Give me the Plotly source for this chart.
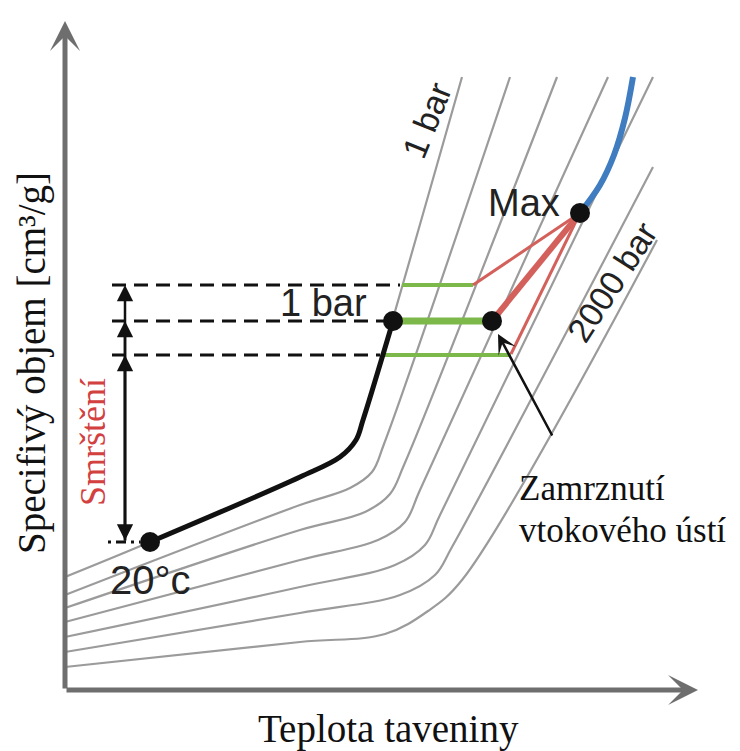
import plotly.graph_objects as go

# ---- data (arbitrary units: T = melt temperature, V = specific volume) ----
# isobars (1 bar ... 2000 bar)
iso_1bar_T = [0.0, 8.5, 23.5, 27.5, 29.1, 29.8, 39.7]
iso_1bar_V = [11.3, 14.8, 21.3, 23.3, 25.0, 27.0, 61.3]
iso_2_T = [0.0, 23.5, 28.5, 30.7, 31.9, 44.5]
iso_2_V = [9.5, 18.5, 20.2, 21.8, 24.6, 61.3]
iso_3_T = [0.0, 23.5, 30.0, 32.5, 33.9, 49.2]
iso_3_V = [8.2, 16.0, 17.8, 19.6, 22.5, 61.3]
iso_4_T = [0.0, 23.5, 31.3, 34.0, 35.5, 54.3]
iso_4_V = [6.8, 13.0, 15.0, 16.8, 20.0, 61.3]
iso_5_T = [0.0, 23.5, 33.0, 36.0, 37.5, 58.8]
iso_5_V = [5.3, 10.3, 12.5, 14.5, 17.5, 61.3]
iso_6_T = [0.0, 23.5, 33.5, 37.0, 38.7, 58.8]
iso_6_V = [3.8, 7.7, 9.5, 11.5, 14.3, 52.3]
iso_2000bar_T = [0.0, 23.5, 32.0, 36.3, 39.7, 59.2]
iso_2000bar_V = [2.3, 4.8, 5.6, 7.9, 11.0, 45.0]

# cooling path at 1 bar (black)
cool_T = [8.5, 23.5, 27.5, 29.1, 29.8, 32.8]
cool_V = [14.8, 21.3, 23.3, 25.0, 27.0, 36.9]

# injection / compression (blue)
inj_T = [51.5, 53.5, 54.9, 56.0, 56.8]
inj_V = [47.7, 50.5, 53.5, 57.2, 61.3]

# holding-pressure levels (green): start T, end T, V
hold_T0 = [33.7, 32.8, 31.7]
hold_T1 = [40.8, 42.7, 44.6]
hold_V = [40.5, 36.9, 33.5]
hold_w = [4, 7, 4]

# pressure drop lines from Max (red)
red_T1 = [40.8, 42.7, 44.6]
red_V1 = [40.5, 36.9, 33.6]
red_w = [3, 6, 3]

# key points
pts_T = [8.5, 32.8, 42.7, 51.5]   # 20°C, 1 bar, gate freeze, Max
pts_V = [14.8, 36.9, 36.9, 47.7]

# reference dashed levels
dash_T0 = [4.7, 4.7, 4.7]
dash_T1 = [33.5, 32.0, 31.5]
dash_V = [40.5, 36.9, 33.5]
shrink_T = 6.0
shrink_base_V = 14.8

GRAY = "#9b9b9b"
AX = "#6e6e6e"
SANS = "Liberation Sans, Arial, sans-serif"
SERIF = "Liberation Serif, Times New Roman, serif"

fig = go.Figure()

isobars = [(iso_1bar_T, iso_1bar_V), (iso_2_T, iso_2_V), (iso_3_T, iso_3_V),
           (iso_4_T, iso_4_V), (iso_5_T, iso_5_V), (iso_6_T, iso_6_V),
           (iso_2000bar_T, iso_2000bar_V)]
for t, v in isobars:
    fig.add_trace(go.Scatter(x=t, y=v, mode="lines",
                             line=dict(color=GRAY, width=2.2, shape="spline", smoothing=1.0),
                             hoverinfo="skip", showlegend=False))

# dashed reference lines
for t0, t1, v in zip(dash_T0, dash_T1, dash_V):
    fig.add_trace(go.Scatter(x=[t0, t1], y=[v, v], mode="lines",
                             line=dict(color="#111", width=3, dash="14px,8px"),
                             showlegend=False, hoverinfo="skip"))
fig.add_trace(go.Scatter(x=[4.3, 7.5], y=[shrink_base_V, shrink_base_V], mode="lines",
                         line=dict(color="#111", width=3, dash="3px,5px,10px,5px"),
                         showlegend=False, hoverinfo="skip"))

# green holding lines
for t0, t1, v, w in zip(hold_T0, hold_T1, hold_V, hold_w):
    fig.add_trace(go.Scatter(x=[t0, t1], y=[v, v], mode="lines",
                             line=dict(color="#7cb84a", width=w),
                             showlegend=False, hoverinfo="skip"))

# red lines from Max
for t1, v1, w in zip(red_T1, red_V1, red_w):
    fig.add_trace(go.Scatter(x=[pts_T[3], t1], y=[pts_V[3], v1], mode="lines",
                             line=dict(color="#d4605c", width=w),
                             showlegend=False, hoverinfo="skip"))

# blue injection curve
fig.add_trace(go.Scatter(x=inj_T, y=inj_V, mode="lines",
                         line=dict(color="#3f7cc0", width=6, shape="spline"),
                         showlegend=False, hoverinfo="skip"))

# black cooling path
fig.add_trace(go.Scatter(x=cool_T, y=cool_V, mode="lines",
                         line=dict(color="#111", width=5, shape="spline", smoothing=1.0),
                         showlegend=False, hoverinfo="skip"))

# dots
fig.add_trace(go.Scatter(x=pts_T, y=pts_V, mode="markers",
                         marker=dict(color="#111", size=20),
                         showlegend=False, hoverinfo="skip"))

ann = []
# axes arrows
ann.append(dict(x=0, y=66.9, ax=0, ay=0, xref="x", yref="y", axref="x", ayref="y",
                showarrow=True, arrowhead=3, arrowwidth=5, arrowsize=1.0, arrowcolor=AX, text=""))
ann.append(dict(x=63.3, y=0, ax=0, ay=0, xref="x", yref="y", axref="x", ayref="y",
                showarrow=True, arrowhead=3, arrowwidth=5, arrowsize=1.0, arrowcolor=AX, text=""))

# shrinkage arrows
for i, v in enumerate(dash_V):
    ann.append(dict(x=shrink_T, y=v, ax=shrink_T, ay=shrink_base_V, xref="x", yref="y",
                    axref="x", ayref="y", showarrow=True, arrowhead=2, arrowwidth=2.5,
                    arrowsize=1.3, arrowcolor="#111", text="",
                    arrowside="end+start" if i == 2 else "end"))

# gate freeze arrow
ann.append(dict(x=43.3, y=35.6, ax=48.8, ay=25.3, xref="x", yref="y", axref="x", ayref="y",
                showarrow=True, arrowhead=3, arrowwidth=2.5, arrowsize=1.3,
                arrowcolor="#111", text=""))

# texts
ann += [
    dict(x=32.3, y=-3.9, text="Teplota taveniny", font=dict(family=SERIF, size=39, color="#111")),
    dict(x=-3.3, y=32.7, text="Specifivý objem [cm³/g]", textangle=-90,
         font=dict(family=SERIF, size=39, color="#111")),
    dict(x=2.8, y=24.8, text="Smrštění", textangle=-90,
         font=dict(family=SERIF, size=36, color="#d2413f")),
    dict(x=45.2, y=20.2, text="Zamrznutí", xanchor="left",
         font=dict(family=SERIF, size=35, color="#111")),
    dict(x=45.2, y=16.0, text="vtokového ústí", xanchor="left",
         font=dict(family=SERIF, size=35, color="#111")),
    dict(x=49.7, y=48.7, text="Max", xanchor="right",
         font=dict(family=SANS, size=38, color="#222")),
    dict(x=25.8, y=38.7, text="1 bar", font=dict(family=SANS, size=38, color="#222")),
    dict(x=8.5, y=11.0, text="20°c", font=dict(family=SANS, size=40, color="#222")),
    dict(x=36.2, y=57.0, text="1 bar", textangle=-68,
         font=dict(family=SANS, size=34, color="#222")),
    dict(x=54.7, y=40.8, text="2000 bar", textangle=-57,
         font=dict(family=SANS, size=34, color="#222")),
]
for a in ann:
    a.setdefault("showarrow", False)
    a.setdefault("xref", "x")
    a.setdefault("yref", "y")

fig.update_layout(
    width=740, height=751,
    margin=dict(l=0, r=0, t=0, b=0),
    paper_bgcolor="white", plot_bgcolor="white",
    xaxis=dict(range=[-6.5, 67.5], visible=False, fixedrange=True),
    yaxis=dict(range=[-6.1, 69.0], visible=False, fixedrange=True),
    annotations=ann,
    showlegend=False,
)

fig.write_html("out.html", config={"displayModeBar": False},
               post_script="document.body.style.margin='0';document.body.style.padding='0';")
